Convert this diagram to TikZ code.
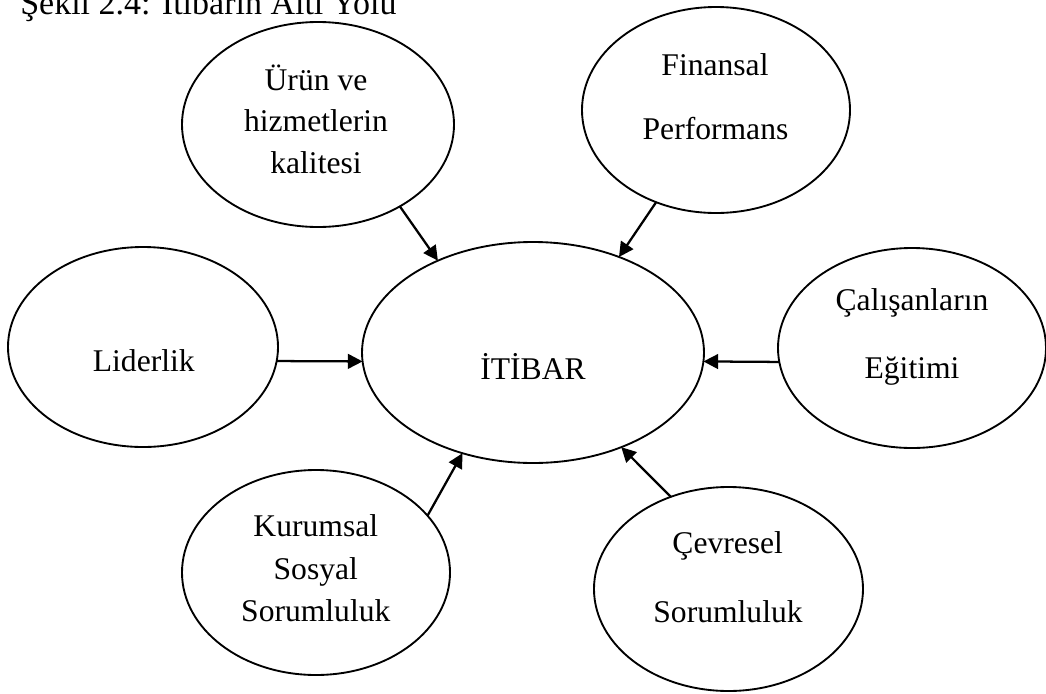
\documentclass[tikz,border=0pt]{standalone}
\usepackage{fontspec}
\setmainfont{Liberation Serif}
\usetikzlibrary{arrows.meta,shapes.geometric}
\tikzset{
  ell/.style={draw, ellipse, line width=1.4pt, inner sep=0pt, outer sep=0pt},
  lbl/.style={anchor=base, inner sep=0pt, font=\fontsize{23.7}{28}\selectfont},
  conn/.style={line width=1.7pt, -{Triangle[length=11pt,width=11pt]}}
}
\begin{document}
\begin{tikzpicture}[x=0.75pt,y=-0.75pt]
\useasboundingbox (0,0) rectangle (1046,693);
% caption (cut off at the top)
\node[lbl, anchor=base west, font=\fontsize{25.5}{30}\selectfont] (cap) at (20,14) {Şekil 2.4: İtibarın Altı Yolu};
% ellipses
\node[ell, minimum width=204pt, minimum height=153.75pt] (urun) at (318,124.5) {};
\node[ell, minimum width=201pt, minimum height=154.5pt] (fin) at (716,110) {};
\node[ell, minimum width=256.5pt, minimum height=165.75pt] (itibar) at (533,352.5) {};
\node[ell, minimum width=202.5pt, minimum height=150pt] (lid) at (143,347) {};
\node[ell, minimum width=201pt, minimum height=150pt] (cal) at (912,348) {};
\node[ell, minimum width=201pt, minimum height=153.75pt] (kur) at (316,572.5) {};
\node[ell, minimum width=201.75pt, minimum height=153pt] (cev) at (728.5,589) {};
% texts
\node[lbl] (u1) at (316,90) {Ürün ve};
\node[lbl] (u2) at (316,131.5) {hizmetlerin};
\node[lbl] (u3) at (316,173) {kalitesi};
\node[lbl] (f1) at (715,75) {Finansal};
\node[lbl] (f2) at (715.5,139.3) {Performans};
\node[lbl] (l1) at (143.8,371.7) {Liderlik};
\node[lbl] (i1) at (533,379.3) {İTİBAR};
\node[lbl] (c1) at (912,310) {Çalışanların};
\node[lbl] (c2) at (912,378.3) {Eğitimi};
\node[lbl] (k1) at (315.8,536) {Kurumsal};
\node[lbl] (k2) at (315.8,579) {Sosyal};
\node[lbl] (k3) at (315.8,621.7) {Sorumluluk};
\node[lbl] (e1) at (727.7,553.3) {Çevresel};
\node[lbl] (e2) at (728,622.7) {Sorumluluk};
% connectors
\draw[conn] (urun.-45.9) -- (itibar.136.7);
\draw[conn] (fin.237.3) -- (itibar.48.6);
\draw[conn] (lid.-6.8) -- (itibar.183.5);
\draw[conn] (cal.186.4) -- (itibar.-3.5);
\draw[conn] (kur.27.2) -- (itibar.235.3);
\draw[conn] (cev.122.9) -- (itibar.-47.7);
\end{tikzpicture}
\end{document}
